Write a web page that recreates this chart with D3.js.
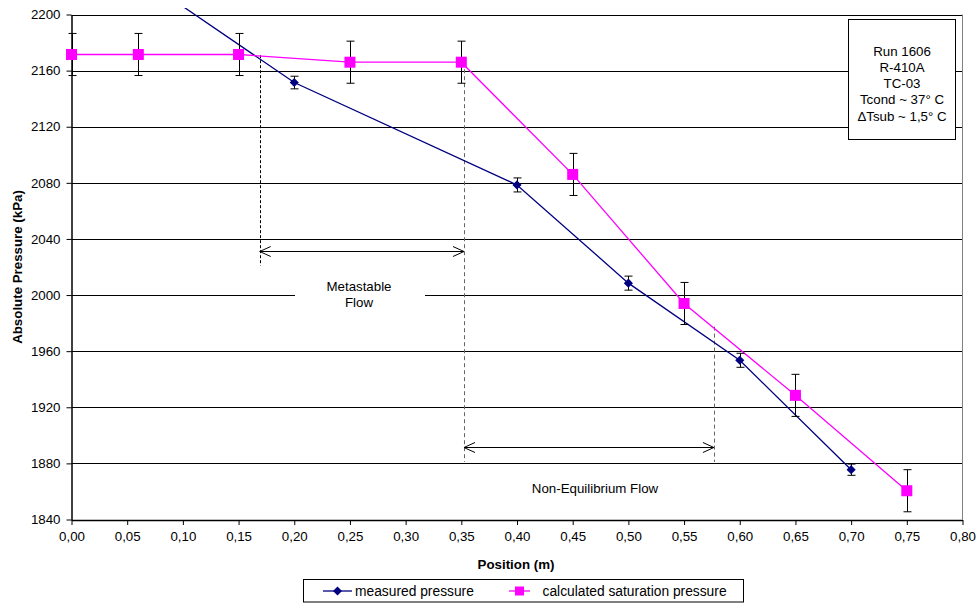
<!DOCTYPE html>
<html><head><meta charset="utf-8">
<script src="https://cdn.jsdelivr.net/npm/d3@7"></script>
<style>body{margin:0;background:#fff}svg{display:block;font-family:"Liberation Sans",Arial,sans-serif}</style>
</head><body><svg id="c" width="979" height="603"></svg>
<script>
// ---- data ----
const measuredX = [0.00, 0.20, 0.40, 0.50, 0.60, 0.70];
const measuredY = [2260, 2151.5, 2078.5, 2008.5, 1953.5, 1875.5];
const measuredErr = [5, 4.5, 5, 5, 5, 4];
const satX = [0.00, 0.06, 0.15, 0.25, 0.35, 0.45, 0.55, 0.65, 0.75];
const satY = [2171.5, 2171.5, 2171.5, 2166, 2166, 2086, 1994, 1928.5, 1860.5];
const satErr = [15, 15, 15, 15, 15, 15, 15, 15, 15];
const xTicks = [0,0.05,0.10,0.15,0.20,0.25,0.30,0.35,0.40,0.45,0.50,0.55,0.60,0.65,0.70,0.75,0.80];
const yTicks = [1840,1880,1920,1960,2000,2040,2080,2120,2160,2200];
const infoLines = ["Run 1606","R-410A","TC-03","Tcond ~ 37° C","\u0394Tsub ~ 1,5° C"];
const legendLabels = ["measured pressure","calculated saturation pressure"];
// annotation anchors (data units)
const boundX = [0.169, 0.3524, 0.5768];
const boundTop = [2171, 2166, 1977.5];
const boundBottom = [2021, 1881, 1881];
const arrowY = [2031.5, 1892];

const FS = 13.3;
const svg = d3.select("#c");
const L=71.5, R=962.5, T=14.5, B=519.5;
const x = d3.scaleLinear().domain([0,0.8]).range([L,R]);
const y = d3.scaleLinear().domain([1840,2200]).range([B,T]);
const fmtX = v => d3.format(".2f")(v).replace(".",",");

// grid
svg.append("g").selectAll("line").data(yTicks).join("line")
  .attr("x1",L).attr("x2",R).attr("y1",d=>Math.round(y(d))+0.5).attr("y2",d=>Math.round(y(d))+0.5)
  .attr("stroke","#000").attr("stroke-width",1);
// right border
svg.append("line").attr("x1",R).attr("x2",R).attr("y1",T).attr("y2",B).attr("stroke","#808080");

// Metastable text background box covering gridline
const ann = svg.append("g");
ann.append("rect").attr("x",295).attr("y",278).attr("width",130).attr("height",34).attr("fill","#fff");

// axes
const xAxis = svg.append("g").attr("transform",`translate(0,${B+0.5})`)
  .call(d3.axisBottom(x).tickValues(xTicks).tickFormat(fmtX).tickSize(5).tickSizeOuter(0));
const yAxis = svg.append("g").attr("transform",`translate(${L},0)`)
  .call(d3.axisLeft(y).tickValues(yTicks).tickFormat(d3.format("d")).tickSize(5).tickSizeOuter(0));
[xAxis,yAxis].forEach(a=>{
  a.select(".domain").attr("stroke","#000").attr("stroke-width",1.5);
  a.selectAll(".tick line").attr("stroke","#000");
  a.selectAll("text").attr("font-family","Liberation Sans, Arial, sans-serif").attr("font-size",FS).attr("fill","#000");
});
xAxis.selectAll("text").attr("dy","1.0em");
yAxis.selectAll("text").attr("x",-11);

svg.append("text").attr("x",516).attr("y",569).attr("text-anchor","middle").attr("font-weight","bold").attr("font-size",FS).text("Position (m)");
svg.append("text").attr("transform","translate(22,267) rotate(-90)").attr("text-anchor","middle").attr("font-weight","bold").attr("font-size",FS).text("Absolute Pressure (kPa)");

// annotations: dashed boundaries
ann.selectAll("line.b").data(boundX).join("line").attr("class","b")
  .attr("x1",d=>Math.round(x(d))+0.5).attr("x2",d=>Math.round(x(d))+0.5)
  .attr("y1",(d,i)=>y(boundTop[i])).attr("y2",(d,i)=>y(boundBottom[i]))
  .attr("stroke",(d,i)=>i==0?"#000":"#666").attr("stroke-width",1)
  .attr("stroke-dasharray",(d,i)=>i==0?"3,2":"4,3");
// arrows
function arrow(x0,x1,yv){
  const yy=Math.round(y(yv))+0.5, a=x(x0), b=x(x1);
  ann.append("line").attr("x1",a).attr("x2",b).attr("y1",yy).attr("y2",yy).attr("stroke","#000");
  ann.append("path").attr("d",`M${a+11},${yy-5}L${a},${yy}L${a+11},${yy+5}M${b-11},${yy-5}L${b},${yy}L${b-11},${yy+5}`)
    .attr("fill","none").attr("stroke","#000");
}
arrow(boundX[0],boundX[1],arrowY[0]);
arrow(boundX[1],boundX[2],arrowY[1]);
ann.append("text").attr("x",359).attr("y",291).attr("text-anchor","middle").attr("font-size",FS).text("Metastable");
ann.append("text").attr("x",359).attr("y",307).attr("text-anchor","middle").attr("font-size",FS).text("Flow");
ann.append("text").attr("x",595).attr("y",493).attr("text-anchor","middle").attr("font-size",FS).text("Non-Equilibrium Flow");

// clip for lines (slightly larger than plot area)
svg.append("clipPath").attr("id","clip").append("rect").attr("x",L-8).attr("y",T-6.5).attr("width",R-L+16).attr("height",B-T+14);

const measured = measuredX.map((v,i)=>({x:v,y:measuredY[i],e:measuredErr[i]}));
const sat = satX.map((v,i)=>({x:v,y:satY[i],e:satErr[i]}));
const line = d3.line().x(d=>x(d.x)).y(d=>y(d.y));

const plot = svg.append("g").attr("clip-path","url(#clip)");
plot.append("path").datum(measured).attr("d",line).attr("fill","none").attr("stroke","#000080").attr("stroke-width",1.3);
plot.append("path").datum(sat).attr("d",line).attr("fill","none").attr("stroke","#FF00FF").attr("stroke-width",1.3);

function errBars(data){
  const g = plot.append("g");
  data.forEach(d=>{
    const cx=Math.round(x(d.x))+0.5, t=y(d.y+d.e), b=y(d.y-d.e);
    g.append("path").attr("d",`M${cx},${t}V${b}M${cx-4},${t}H${cx+4}M${cx-4},${b}H${cx+4}`)
      .attr("stroke","#000").attr("fill","none").attr("stroke-width",1);
  });
}
errBars(measured); errBars(sat);

// markers
plot.append("g").selectAll("path").data(measured).join("path")
  .attr("d",d3.symbol(d3.symbolSquare,42))
  .attr("transform",d=>`translate(${x(d.x)},${y(d.y)}) rotate(45)`)
  .attr("fill","#000080");
plot.append("g").selectAll("rect").data(sat).join("rect")
  .attr("x",d=>x(d.x)-5.5).attr("y",d=>y(d.y)-5.5).attr("width",11).attr("height",11).attr("fill","#FF00FF");

// info box
const ib = svg.append("g");
ib.append("rect").attr("x",848.5).attr("y",19.5).attr("width",107).attr("height",120).attr("fill","#fff").attr("stroke","#000");
ib.selectAll("text").data(infoLines).join("text").attr("x",902).attr("y",(d,i)=>55.5+i*16.3)
  .attr("text-anchor","middle").attr("font-size",FS).text(d=>d);

// legend
const lg = svg.append("g");
lg.append("rect").attr("x",303.5).attr("y",579.5).attr("width",440).attr("height",22.5).attr("fill","#fff").attr("stroke","#000");
const ly=591;
lg.append("line").attr("x1",323).attr("x2",352).attr("y1",ly).attr("y2",ly).attr("stroke","#000080").attr("stroke-width",1.3);
lg.append("path").attr("d",d3.symbol(d3.symbolSquare,40)).attr("transform",`translate(337.5,${ly}) rotate(45)`).attr("fill","#000080");
lg.append("text").attr("x",355).attr("y",ly+4.8).attr("font-size",13.8).text(legendLabels[0]);
lg.append("line").attr("x1",509).attr("x2",530).attr("y1",ly).attr("y2",ly).attr("stroke","#FF00FF").attr("stroke-width",1.3);
lg.append("rect").attr("x",515).attr("y",ly-4.5).attr("width",9).attr("height",9).attr("fill","#FF00FF");
lg.append("text").attr("x",542.5).attr("y",ly+4.8).attr("font-size",13.8).text(legendLabels[1]);
</script></body></html>
